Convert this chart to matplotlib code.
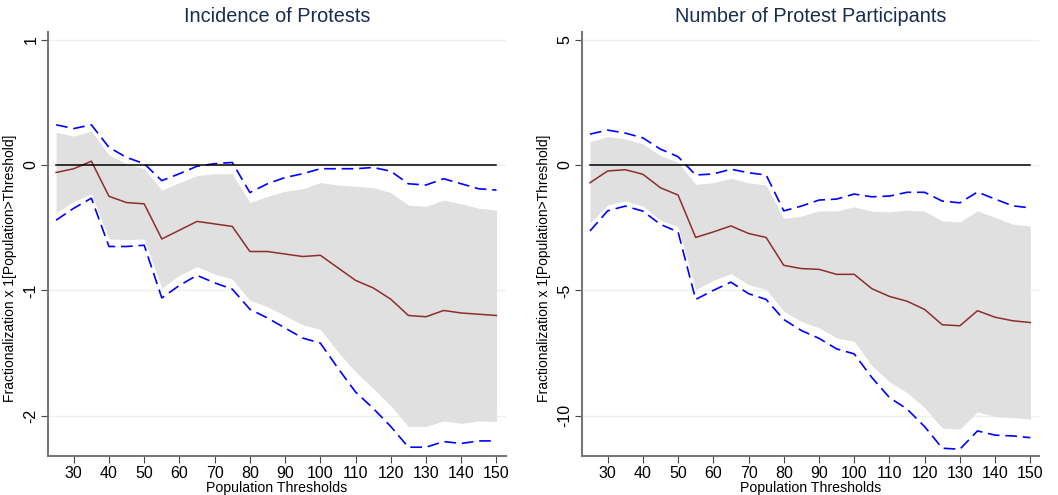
import numpy as np
import matplotlib.pyplot as plt

plt.rcParams['font.family'] = ['Liberation Sans', 'DejaVu Sans']

thresholds = list(range(25, 155, 5))

# Incidence of Protests
inc_est = [-0.06, -0.03, 0.03, -0.25, -0.30, -0.31, -0.59, -0.52, -0.45, -0.47, -0.49,
           -0.69, -0.69, -0.71, -0.73, -0.72, -0.82, -0.92, -0.98, -1.07, -1.20, -1.21,
           -1.16, -1.18, -1.19, -1.20]
inc_band_hi = [0.26, 0.23, 0.27, 0.08, 0.01, -0.03, -0.20, -0.14, -0.085, -0.07, -0.07,
               -0.30, -0.25, -0.21, -0.19, -0.14, -0.16, -0.17, -0.18, -0.22, -0.32, -0.33,
               -0.28, -0.31, -0.345, -0.36]
inc_band_lo = [-0.38, -0.29, -0.23, -0.59, -0.595, -0.59, -0.98, -0.88, -0.81, -0.87, -0.91,
               -1.08, -1.13, -1.20, -1.275, -1.31, -1.49, -1.65, -1.78, -1.92, -2.085, -2.085,
               -2.04, -2.06, -2.04, -2.045]
inc_ci_hi = [0.32, 0.29, 0.32, 0.14, 0.06, 0.01, -0.125, -0.07, -0.01, 0.01, 0.02,
             -0.22, -0.15, -0.10, -0.07, -0.03, -0.03, -0.03, -0.02, -0.05, -0.15, -0.16,
             -0.11, -0.15, -0.19, -0.20]
inc_ci_lo = [-0.44, -0.345, -0.265, -0.65, -0.65, -0.64, -1.06, -0.96, -0.88, -0.94, -0.99,
             -1.15, -1.22, -1.30, -1.38, -1.42, -1.62, -1.81, -1.94, -2.085, -2.25, -2.25,
             -2.205, -2.22, -2.20, -2.20]

# Number of Protest Participants
num_est = [-0.71, -0.24, -0.19, -0.37, -0.91, -1.20, -2.89, -2.67, -2.43, -2.73, -2.89,
           -4.00, -4.13, -4.16, -4.36, -4.36, -4.93, -5.24, -5.43, -5.76, -6.37, -6.41,
           -5.81, -6.07, -6.21, -6.28]
num_band_hi = [0.92, 1.13, 1.04, 0.84, 0.37, 0.11, -0.77, -0.71, -0.53, -0.71, -0.80,
               -2.13, -2.04, -1.83, -1.83, -1.67, -1.84, -1.87, -1.80, -1.84, -2.23, -2.27,
               -1.83, -2.09, -2.36, -2.44]
num_band_lo = [-2.31, -1.60, -1.43, -1.64, -2.20, -2.47, -4.97, -4.60, -4.33, -4.77, -4.96,
               -5.83, -6.24, -6.49, -6.89, -7.03, -8.00, -8.64, -9.07, -9.67, -10.49, -10.53,
               -9.84, -10.03, -10.07, -10.13]
num_ci_hi = [1.23, 1.39, 1.27, 1.08, 0.63, 0.33, -0.40, -0.36, -0.17, -0.31, -0.40,
             -1.83, -1.64, -1.40, -1.36, -1.16, -1.27, -1.24, -1.09, -1.09, -1.44, -1.51,
             -1.08, -1.36, -1.63, -1.71]
num_ci_lo = [-2.63, -1.83, -1.64, -1.84, -2.37, -2.67, -5.36, -5.00, -4.67, -5.13, -5.36,
             -6.16, -6.60, -6.91, -7.33, -7.53, -8.47, -9.27, -9.73, -10.43, -11.29, -11.33,
             -10.60, -10.77, -10.80, -10.87]

panels = [
    ('Incidence of Protests', inc_est, inc_band_lo, inc_band_hi, inc_ci_lo, inc_ci_hi,
     [-2, -1, 0, 1], (-2.32, 1.06), 0.0454),
    ('Number of Protest Participants', num_est, num_band_lo, num_band_hi, num_ci_lo, num_ci_hi,
     [-10, -5, 0, 5], (-11.6, 5.3), 0.550),
]

fig = plt.figure(figsize=(10.58, 4.95), dpi=100)

for title, est, blo, bhi, clo, chi, yt, ylim, left in panels:
    ax = fig.add_axes([left, 0.0788, 0.4325, 0.8566])
    ax.fill_between(thresholds, blo, bhi, color='#e0e0e0', linewidth=0, zorder=1)
    ax.plot(thresholds, chi, color='#0000ff', lw=1.2, dashes=(7, 3.5), zorder=3)
    ax.plot(thresholds, clo, color='#0000ff', lw=1.2, dashes=(7, 3.5), zorder=3)
    ax.plot(thresholds, est, color='#8f2d2d', lw=1.1, zorder=4)
    ax.plot([25, 150], [0, 0], color='black', lw=1.1, zorder=5)

    ax.set_xlim(22.7, 152.6)
    ax.set_ylim(*ylim)
    ax.set_xticks(range(30, 151, 10))
    ax.set_yticks(yt)
    ax.set_yticklabels([str(v) for v in yt], rotation=90, va='center')
    ax.grid(axis='y', color='#eaf2f3', lw=1, zorder=0)
    ax.set_axisbelow(True)
    ax.tick_params(labelsize=11.5, length=5, color='#444444', width=0.8, pad=2)

    for s in ['top', 'right']:
        ax.spines[s].set_visible(False)
    for s in ['left', 'bottom']:
        ax.spines[s].set_color('#777777')
        ax.spines[s].set_linewidth(1.5)

    ax.set_title(title, fontsize=14.3, color='#1a2b50', pad=7)
    ax.set_xlabel('Population Thresholds', fontsize=10.2, labelpad=0)
    ax.set_ylabel('Fractionalization x 1[Population>Threshold]', fontsize=10, labelpad=3)
    ax.yaxis.set_label_coords(-0.068, 0.443)

fig.savefig('out.png', dpi=100)
